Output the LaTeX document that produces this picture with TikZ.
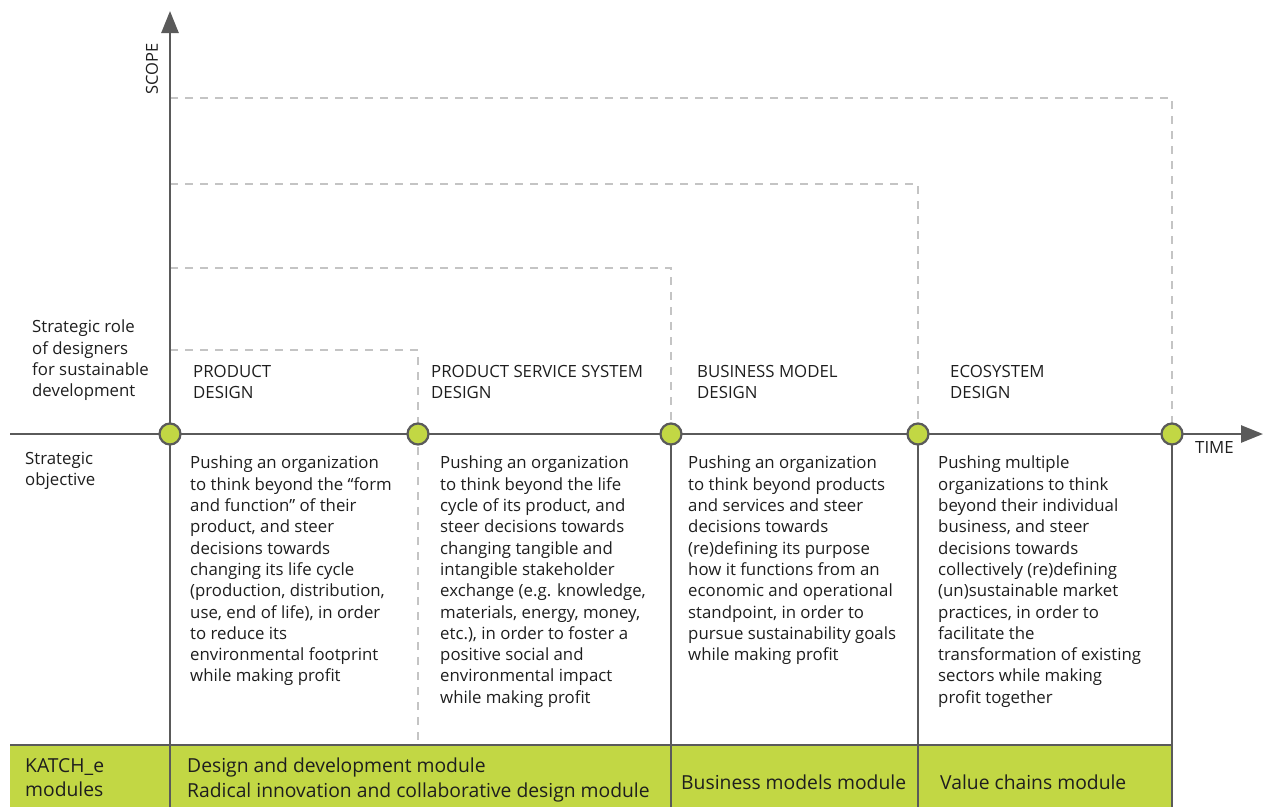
\documentclass[tikz,border=0pt]{standalone}
\usepackage{fontspec}
\setmainfont{Open Sans}
\usetikzlibrary{arrows.meta}
\definecolor{axisgray}{HTML}{5A5A5A}
\definecolor{dashgray}{HTML}{C4C4C4}
\definecolor{lime}{HTML}{C2D744}
\definecolor{txt}{HTML}{1E1E1E}
\begin{document}
\begin{tikzpicture}[x=1pt,y=-1pt,
  axis/.style={draw=axisgray,line width=2.6pt},
  guide/.style={draw=dashgray,line width=1.3pt,dash pattern=on 8pt off 7pt},
  divider/.style={draw=axisgray,line width=2.2pt},
  dot/.style={circle,fill=lime,draw=axisgray,line width=2.2pt,minimum size=21pt,inner sep=0},
  lbl/.style={anchor=north west,inner sep=0,align=left,text=txt,font=\fontsize{16.8}{21.3}\selectfont},
  modlbl/.style={anchor=north west,inner sep=0,align=left,text=txt,font=\fontsize{19.3}{24.3}\selectfont},
  ]
\useasboundingbox (0,0) rectangle (1264,807);
% green band
\fill[lime] (10,745) rectangle (1171,807);
% guide lines
\coordinate (g1) at (170,350);
\coordinate (g2) at (170,268);
\coordinate (g3) at (170,184);
\coordinate (g4) at (170,98);
\coordinate (g1e) at (418,745);
\coordinate (g2e) at (671,434);
\coordinate (g3e) at (918,434);
\coordinate (g4e) at (1172,434);
\draw[guide] (g1) -| (g1e);
\draw[guide] (g2) -| (g2e);
\draw[guide] (g3) -| (g3e);
\draw[guide] (g4) -| (g4e);
% axes
\coordinate (ybot) at (170,807);
\coordinate (ytop) at (170,11);
\coordinate (xl) at (10,434);
\coordinate (xr) at (1263,434);
\coordinate (bl) at (10,745);
\coordinate (br) at (1171,745);
\coordinate (b3) at (671,807);
\coordinate (b4) at (918,807);
\coordinate (b5) at (1172,807);
\draw[divider] (bl) -- (br);
\draw[divider] (g2e) -- (b3);
\draw[divider] (g3e) -- (b4);
\draw[divider] (g4e) -- (b5);
\draw[axis,-{Triangle[length=22pt,width=17pt]}] (ybot) -- (ytop);
\draw[axis,-{Triangle[length=22pt,width=17pt]}] (xl) -- (xr);
% dots
\node[dot] (d1) at (170,434) {};
\node[dot] (d2) at (418,434) {};
\node[dot] (d3) at (671,434) {};
\node[dot] (d4) at (918,434) {};
\node[dot] (d5) at (1172,434) {};
% labels
\node[text=txt,font=\fontsize{16.5}{18}\selectfont,rotate=90,inner sep=0] (scope) at (152,69) {SCOPE};
\node[lbl,anchor=west] (time) at (1195,447) {TIME};
\node[lbl] (role) at (32,320) {Strategic role\\of designers\\for sustainable\\development};
\node[lbl] (obj) at (25,452) {Strategic\\objective};
\node[lbl] (h1) at (193,365) {PRODUCT\\DESIGN};
\node[lbl] (h2) at (431,365) {PRODUCT SERVICE SYSTEM\\DESIGN};
\node[lbl] (h3) at (697,365) {BUSINESS MODEL\\DESIGN};
\node[lbl] (h4) at (950,365) {ECOSYSTEM\\DESIGN};
\node[lbl] (t1) at (190,456) {Pushing an organization\\to think beyond the “form\\and function” of their\\product, and steer\\decisions towards\\changing its life cycle\\(production, distribution,\\use, end of life), in order\\to reduce its\\environmental footprint\\while making profit};
\node[lbl] (t2) at (440,456) {Pushing an organization\\to think beyond the life\\cycle of its product, and\\steer decisions towards\\changing tangible and\\intangible stakeholder\\exchange (e.g. knowledge,\\materials, energy, money,\\etc.), in order to foster a\\positive social and\\environmental impact\\while making profit};
\node[lbl] (t3) at (688,456) {Pushing an organization\\to think beyond products\\and services and steer\\decisions towards\\(re)defining its purpose\\how it functions from an\\economic and operational\\standpoint, in order to\\pursue sustainability goals\\while making profit};
\node[lbl] (t4) at (938,456) {Pushing multiple\\organizations to think\\beyond their individual\\business, and steer\\decisions towards\\collectively (re)defining\\(un)sustainable market\\practices, in order to\\facilitate the\\transformation of existing\\sectors while making\\profit together};
\node[modlbl] (m0) at (25,758) {KATCH\_e\\modules};
\node[modlbl] (m1) at (187,758) {Design and development module\\Radical innovation and collaborative design module};
\node[modlbl,anchor=west] (m3) at (681,782) {Business models module};
\node[modlbl,anchor=west] (m4) at (940,782) {Value chains module};
\end{tikzpicture}
\end{document}
